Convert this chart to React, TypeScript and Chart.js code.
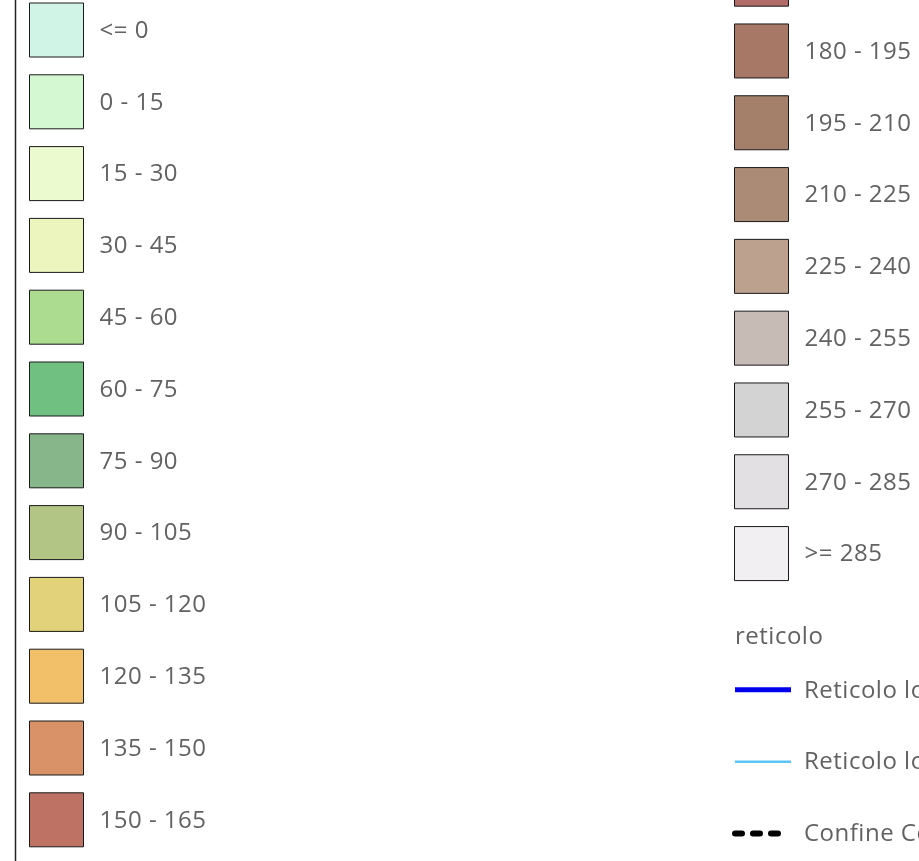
import React, { useEffect, useRef } from "react";
import { Chart, registerables } from "chart.js";

Chart.register(...registerables);

// ---- data ----
const leftLabels = [
  "<= 0", "0 - 15", "15 - 30", "30 - 45", "45 - 60", "60 - 75",
  "75 - 90", "90 - 105", "105 - 120", "120 - 135", "135 - 150", "150 - 165",
];
const leftColors = [
  "#d0f4e6", "#d4f8d2", "#ecfad0", "#ebf5bd", "#abdc8f", "#70c181",
  "#87b68a", "#b3c585", "#e2d279", "#f2c068", "#d99267", "#be7264",
];
const rightLabels = [
  "165 - 180", "180 - 195", "195 - 210", "210 - 225", "225 - 240",
  "240 - 255", "255 - 270", "270 - 285", ">= 285",
];
const rightColors = [
  "#b06c68", "#a87866", "#a47f6a", "#ab8b76", "#bca18f",
  "#c7bbb5", "#d3d3d3", "#e2e0e3", "#f1eff2",
];
const lineGroupTitle = "reticolo";
const lineLabels = ["Reticolo lo", "Reticolo lo", "Confine Comunale"];
const lineColors = ["#0000ee", "#5cc3f6", "#000000"];
const lineWidths = [5, 2.5, 6];
const lineDashes: number[][] = [[], [], [7, 11]];

// ---- layout constants ----
const W = 919;
const H = 861;
const ROW0 = 30;
const PITCH = 71.8;
const yMin = -ROW0 / PITCH;
const yMax = (H - ROW0) / PITCH;
const LEFT_X = 56.5;
const RIGHT_X = 761.5;
const RIGHT_OFFSET = -0.708;
const SWATCH = 54;
const TITLE_ROW = 8.44;
const LINE_ROW0 = 9.19;
const LINE_X0 = 735;
const LINE_X1 = 791;
const FRAME_X = 15.5;
const FONT = '24px "Open Sans", "Noto Sans", sans-serif';
const TEXT = "#626262";

export default function App() {
  const ref = useRef<HTMLCanvasElement | null>(null);

  useEffect(() => {
    if (!ref.current) return;
    const radius = SWATCH / Math.SQRT2;

    const lineDatasets = lineLabels.map((lab, i) => ({
      type: "line" as const,
      label: lab,
      data: [
        { x: LINE_X0, y: LINE_ROW0 + i },
        { x: i === 2 ? LINE_X1 - 8 : LINE_X1, y: LINE_ROW0 + i },
      ],
      borderColor: lineColors[i],
      borderWidth: lineWidths[i],
      borderDash: lineDashes[i],
      borderCapStyle: i === 2 ? ("round" as const) : ("butt" as const),
      pointRadius: 0,
      showLine: true,
      clip: false as any,
    }));

    const labelPlugin = {
      id: "legendLabels",
      afterDatasetsDraw(chart: any) {
        const ctx = chart.ctx;
        ctx.save();
        ctx.font = FONT;
        ctx.fillStyle = TEXT;
        ctx.textBaseline = "middle";
        ctx.textAlign = "left";
        try { (ctx as any).letterSpacing = "0.5px"; } catch (e) {}
        const draw = (dsIndex: number, labels: string[]) => {
          const meta = chart.getDatasetMeta(dsIndex);
          meta.data.forEach((el: any, i: number) => {
            ctx.fillText(labels[i], el.x + SWATCH / 2 + 16, el.y + 1);
          });
        };
        draw(1, leftLabels);
        draw(2, rightLabels);
        const xs = chart.scales.x;
        const ys = chart.scales.y;
        ctx.fillText(lineGroupTitle, xs.getPixelForValue(LINE_X0), ys.getPixelForValue(TITLE_ROW) + 1);
        lineLabels.forEach((lab, i) => {
          ctx.fillText(lab, xs.getPixelForValue(LINE_X1) + 13, ys.getPixelForValue(LINE_ROW0 + i) + 1);
        });
        ctx.restore();
      },
    };

    const chart = new Chart(ref.current, {
      type: "scatter",
      data: {
        datasets: [
          {
            type: "line",
            label: "frame",
            data: [
              { x: FRAME_X, y: yMin },
              { x: FRAME_X, y: yMax },
            ],
            borderColor: "#222222",
            borderWidth: 1.5,
            pointRadius: 0,
            showLine: true,
          } as any,
          {
            label: "left",
            data: leftLabels.map((_, i) => ({ x: LEFT_X, y: i })),
            pointStyle: "rect",
            pointRadius: radius,
            pointHoverRadius: radius,
            backgroundColor: leftColors,
            borderColor: "#1a1a1a",
            borderWidth: 1,
            clip: false as any,
          },
          {
            label: "right",
            data: rightLabels.map((_, i) => ({ x: RIGHT_X, y: i + RIGHT_OFFSET })),
            pointStyle: "rect",
            pointRadius: radius,
            pointHoverRadius: radius,
            backgroundColor: rightColors,
            borderColor: "#1a1a1a",
            borderWidth: 1,
            clip: false as any,
          },
          ...(lineDatasets as any[]),
        ],
      },
      options: {
        animation: false,
        responsive: false,
        maintainAspectRatio: false,
        events: [],
        layout: { padding: 0, autoPadding: false },
        plugins: {
          legend: { display: false },
          tooltip: { enabled: false },
          title: { display: false },
        },
        scales: {
          x: { type: "linear", display: false, min: 0, max: W },
          y: { type: "linear", display: false, min: yMin, max: yMax, reverse: true },
        },
      },
      plugins: [labelPlugin],
    });

    if ((document as any).fonts && (document as any).fonts.load) {
      (document as any).fonts.load(FONT).then(() => chart.update()).catch(() => {});
    }

    return () => chart.destroy();
  }, []);

  return (
    <div style={{ position: "absolute", left: 0, top: 0, width: W, height: H, background: "#ffffff" }}>
      <canvas ref={ref} width={W} height={H} style={{ display: "block", width: W, height: H }} />
    </div>
  );
}
